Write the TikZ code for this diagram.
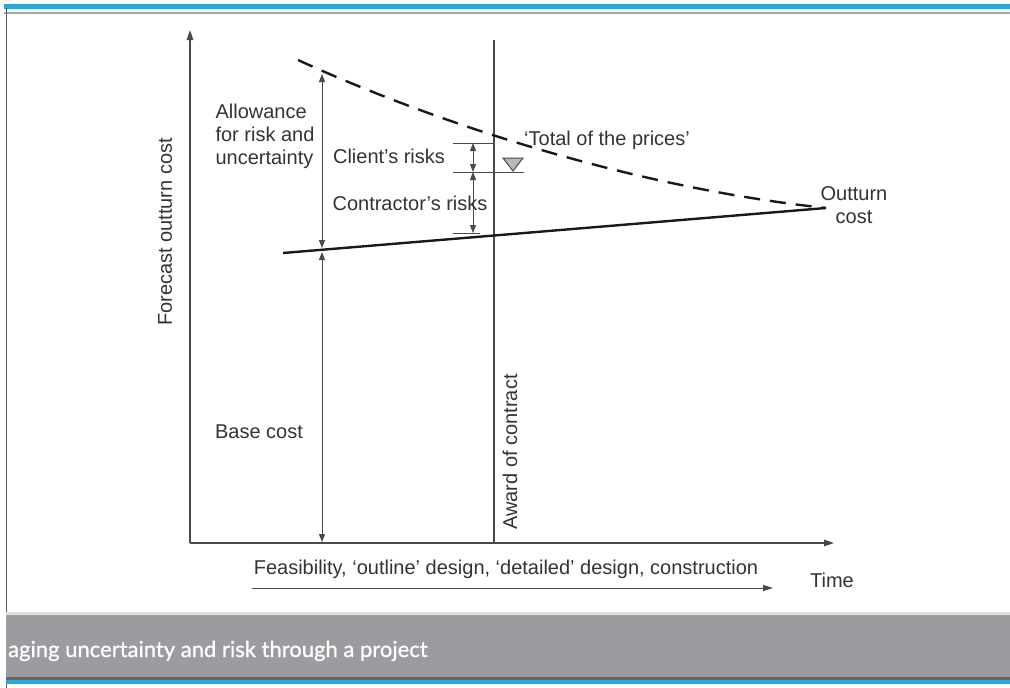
\documentclass[tikz,border=0pt]{standalone}
\usepackage{fontspec}
\setmainfont{Liberation Sans}
\newfontfamily\bannerfont[FakeBold=0.8]{Lato}
\usetikzlibrary{arrows.meta}
\definecolor{txtgray}{HTML}{333333}
\definecolor{axisgray}{HTML}{4A4A4A}
\definecolor{bannergray}{HTML}{9C9CA0}
\definecolor{rulecyan}{HTML}{29A6DE}
\tikzset{
  lbl/.style={text=txtgray,font=\fontsize{20}{23}\selectfont,inner sep=0pt},
  axisline/.style={axisgray,line width=1.2pt,-{Triangle[length=10pt,width=6.5pt]}},
  dimline/.style={axisgray,line width=1pt,{Triangle[length=8pt,width=6pt]}-{Triangle[length=8pt,width=6pt]}},
  tickline/.style={axisgray,line width=1pt},
  costline/.style={black!90,line width=2.4pt},
}
\begin{document}
\begin{tikzpicture}[x=1pt,y=-1pt]
\useasboundingbox (0,0) rectangle (1010,688);
%
% page frame and banner
\fill[rulecyan] (4,4) rectangle (1010,8.5);
\fill[cyan!15] (4,8.5) rectangle (1010,10.5);
\fill[gray!70] (4,11.5) rectangle (1010,14);
\draw[gray!70!black,line width=1pt] (6,8) -- (6,688);
\fill[gray!25] (6,612) rectangle (1010,615);
\fill[bannergray] (6,615) rectangle (1010,677);
\fill[gray!80!black] (6,677) rectangle (1010,680);
\fill[rulecyan] (6,680) rectangle (1010,684);
\node[anchor=base west,text=white,font=\bannerfont\fontsize{22}{25}\selectfont,inner sep=0pt]
  (caption) at (8,657) {aging uncertainty and risk through a project};
%
% axes
\coordinate (origin) at (190,543);
\coordinate (ytop) at (190,30);
\coordinate (xend) at (834,543);
\draw[axisline] (origin) -- (ytop);
\draw[axisline] (origin) -- (xend);
\node[lbl,rotate=90] (ylabel) at (165,232) {Forecast outturn cost};
\node[lbl] (time) at (832,580) {Time};
\node[lbl] (phases) at (506,569) {Feasibility, ‘outline’ design, ‘detailed’ design, construction};
\coordinate (ph0) at (252,588);
\coordinate (ph1) at (773,588);
\draw[axisgray,line width=1pt,-{Triangle[length=10pt,width=6pt]}] (ph0) -- (ph1);
%
% award of contract
\coordinate (aw0) at (494,40);
\coordinate (aw1) at (494,543);
\draw[axisgray,line width=1.1pt] (aw0) -- (aw1);
\node[lbl,rotate=90] (award) at (510,452) {Award of contract};
%
% base cost and total of the prices
\coordinate (base0) at (283,253);
\coordinate (outturn) at (826,208);
\draw[costline] (base0) -- (outturn);
\draw[costline,dash pattern=on 16pt off 10pt] (298,60) .. controls (420,116) and (620,186) .. (outturn);
%
% allowance and base cost arrows
\coordinate (al0) at (322,74);
\coordinate (al1) at (322,248);
\coordinate (bc0) at (322,252);
\coordinate (bc1) at (322,542);
\draw[dimline] (al0) -- (al1);
\draw[dimline] (bc0) -- (bc1);
%
% client's and contractor's risks
\coordinate (cl0) at (473,143);
\coordinate (cl1) at (473,172);
\coordinate (co1) at (473,233);
\draw[tickline] (453,143) -- (493,143);
\draw[tickline] (453,172) -- (524,172);
\draw[tickline] (453,233) -- (480,233);
\draw[dimline] (cl0) -- (cl1);
\draw[dimline] (cl1) -- (co1);
\draw[axisgray,fill=gray!55,line width=1pt] (503,158) -- (523,158) -- (513,171) -- cycle;
%
% labels
\node[lbl,align=left] (allow) at (265,136) {Allowance\\for risk and\\uncertainty};
\node[lbl] (client) at (389,156) {Client’s risks};
\node[lbl] (contr) at (410,203) {Contractor’s risks};
\node[lbl] (total) at (607,140) {‘Total of the prices’};
\node[lbl,align=center] (outlbl) at (854,205) {Outturn\\cost};
\node[lbl] (basecost) at (259,432) {Base cost};
\end{tikzpicture}
\end{document}
